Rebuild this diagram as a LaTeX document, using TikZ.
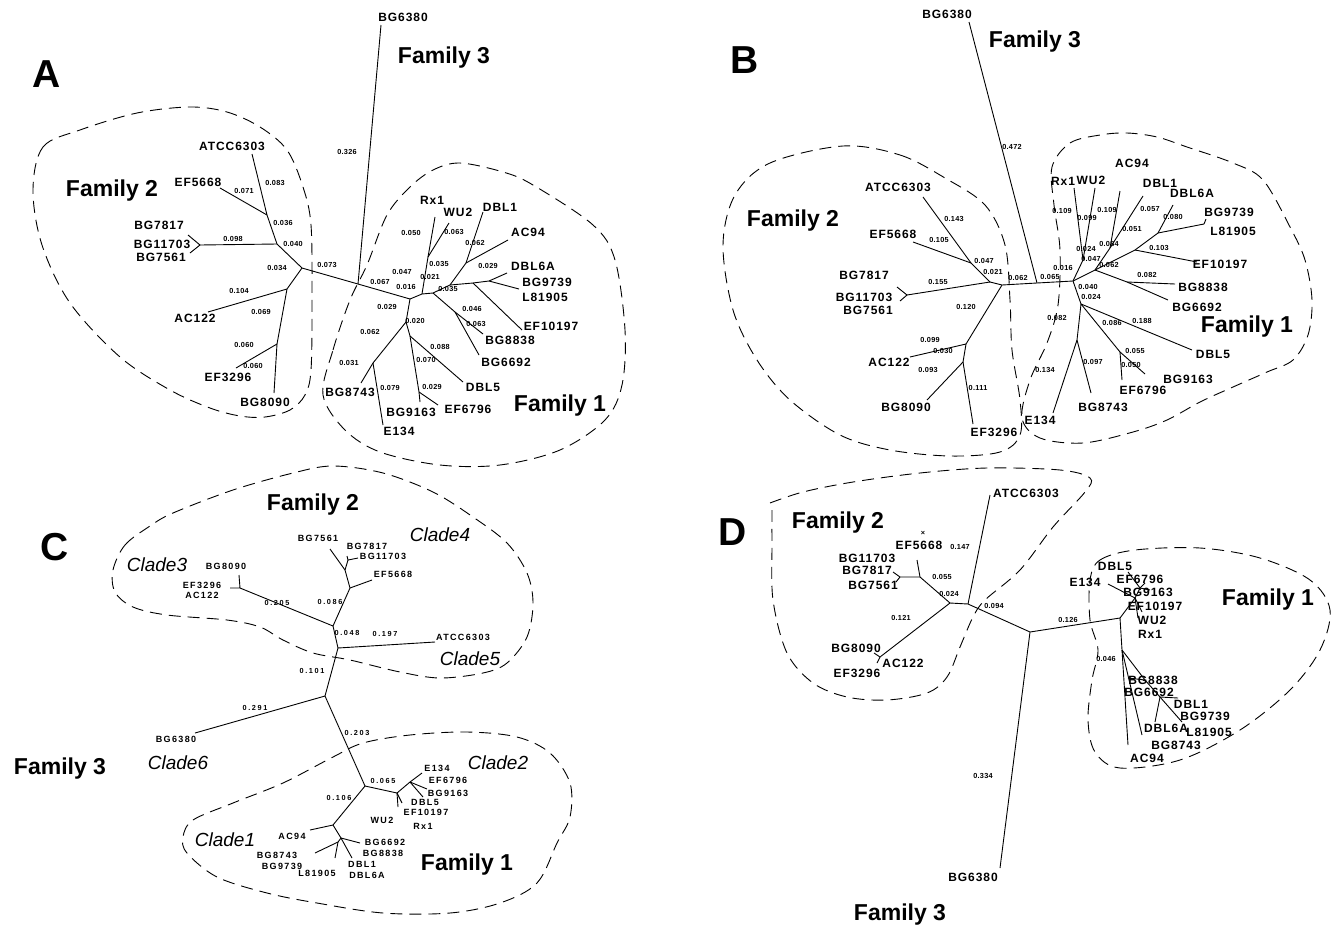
\documentclass[tikz,border=0pt]{standalone}
\usepackage{fontspec}
\setmainfont{Liberation Sans}
\newfontfamily\lfam[LetterSpace=8]{Liberation Sans}
\newfontfamily\cfam[LetterSpace=15]{Liberation Sans}
\newfontfamily\nfam[LetterSpace=4]{Liberation Sans}
\newfontfamily\cnfam[LetterSpace=22]{Liberation Sans}
\tikzset{
 leaf/.style={font=\lfam\bfseries\fontsize{12}{12}\selectfont, inner sep=0pt},
 cleaf/.style={font=\cfam\bfseries\fontsize{9}{9}\selectfont, inner sep=0pt},
 num/.style={font=\nfam\bfseries\fontsize{7.3}{8}\selectfont, inner sep=0pt},
 cnum/.style={font=\cnfam\bfseries\fontsize{7.3}{8}\selectfont, inner sep=0pt},
 fam/.style={font=\bfseries\fontsize{23}{25}\selectfont, inner sep=0pt},
 panel/.style={font=\bfseries\fontsize{39}{40}\selectfont, inner sep=0pt},
 clade/.style={font=\itshape\fontsize{19}{20}\selectfont, inner sep=0pt},
 br/.style={line width=0.9pt, line join=round},
 bound/.style={line width=0.9pt, dash pattern=on 12pt off 7pt},
}
\newcommand\tx[4][leaf]{\node[#1] (#2) at (#3) {#4};}
\begin{document}
\begin{tikzpicture}[x=1pt,y=-1pt]
\useasboundingbox (0,0) rectangle (1340,929);
% ================= PANEL A =================
\tx[panel]{aA}{47,74}{A}
\tx[fam]{aF2}{112,191}{Family 2}
\tx[fam]{aF3}{444,58}{Family 3}
\tx[fam]{aF1}{560,406}{Family 1}
\tx{aLatcc}{232,146}{ATCC6303}
\tx{aLef5668}{198,182}{EF5668}
\tx{aLbg7817}{159,225}{BG7817}
\tx{aLbg11703}{162,244}{BG11703}
\tx{aLbg7561}{161,257}{BG7561}
\tx{aLac122}{195,318}{AC122}
\tx{aLef3296}{228,377}{EF3296}
\tx{aLbg8090}{265,402}{BG8090}
\tx{aLbg6380}{403,17}{BG6380}
\tx{aLrx1}{432,200}{Rx1}
\tx{aLwu2}{458,212}{WU2}
\tx{aLdbl1}{500,207}{DBL1}
\tx{aLac94}{528,232}{AC94}
\tx{aLdbl6a}{533,266}{DBL6A}
\tx{aLbg9739}{547,282}{BG9739}
\tx{aLl81905}{545,297}{L81905}
\tx{aLef10197}{551,326}{EF10197}
\tx{aLbg8838}{510,340}{BG8838}
\tx{aLbg6692}{506,362}{BG6692}
\tx{aLdbl5}{483,387}{DBL5}
\tx{aLef6796}{468,409}{EF6796}
\tx{aLbg9163}{411,412}{BG9163}
\tx{aLe134}{399,431}{E134}
\tx{aLbg8743}{350,392}{BG8743}
% numbers A
\tx[num]{an1}{347,152}{0.326}
\tx[num]{an2}{275,183}{0.083}
\tx[num]{an3}{244,191}{0.071}
\tx[num]{an4}{283,223}{0.036}
\tx[num]{an5}{233,239}{0.098}
\tx[num]{an6}{293,244}{0.040}
\tx[num]{an7}{277,268}{0.034}
\tx[num]{an8}{327,265}{0.073}
\tx[num]{an9}{239,291}{0.104}
\tx[num]{an10}{261,312}{0.069}
\tx[num]{an11}{244,345}{0.060}
\tx[num]{an12}{253,366}{0.060}
\tx[num]{an13}{411,233}{0.050}
\tx[num]{an14}{454,232}{0.063}
\tx[num]{an15}{475,243}{0.062}
\tx[num]{an16}{439,264}{0.035}
\tx[num]{an17}{488,266}{0.029}
\tx[num]{an18}{402,272}{0.047}
\tx[num]{an19}{430,277}{0.021}
\tx[num]{an20}{380,282}{0.067}
\tx[num]{an21}{406,287}{0.016}
\tx[num]{an22}{448,289}{0.035}
\tx[num]{an23}{387,307}{0.029}
\tx[num]{an24}{472,309}{0.046}
\tx[num]{an25}{415,321}{0.020}
\tx[num]{an26}{476,324}{0.063}
\tx[num]{an27}{370,332}{0.062}
\tx[num]{an28}{440,347}{0.088}
\tx[num]{an29}{426,360}{0.070}
\tx[num]{an30}{349,363}{0.031}
\tx[num]{an31}{390,388}{0.079}
\tx[num]{an32}{432,387}{0.029}
% tree A
\coordinate (aatcc) at (252,154); \coordinate (aef5668) at (220,188);
\coordinate (aN1) at (267,215); \coordinate (aN2) at (277,244);
\coordinate (abg) at (200,245); \coordinate (abg1) at (188,235); \coordinate (abg2) at (190,253);
\coordinate (aN3) at (302,268); \coordinate (aN4) at (287,289); \coordinate (aac122) at (208,312);
\coordinate (aN5) at (277,344); \coordinate (aef3296) at (236,368); \coordinate (abg8090) at (274,393);
\coordinate (aJ) at (358,284); \coordinate (abg6380) at (381,25); \coordinate (aR) at (410,299);
\coordinate (aN6) at (422,294); \coordinate (aN7) at (428,257); \coordinate (arx1) at (435,217);
\coordinate (awu2) at (449,223); \coordinate (aN8) at (433,293); \coordinate (aN9) at (450,285);
\coordinate (aN10) at (466,263); \coordinate (adbl1) at (483,212); \coordinate (aac94) at (508,240);
\coordinate (aN12) at (473,283); \coordinate (aN11) at (489,281); \coordinate (adbl6a) at (507,273);
\coordinate (al81905) at (519,289); \coordinate (aef10197) at (522,330); \coordinate (aN13) at (455,312);
\coordinate (abg8838) at (483,334); \coordinate (abg6692) at (479,355); \coordinate (aN14) at (406,322);
\coordinate (aN15) at (410,336); \coordinate (adbl5) at (463,382); \coordinate (aN16) at (419,392);
\coordinate (abg9163) at (420,402); \coordinate (aef6796) at (438,405); \coordinate (aN17) at (373,363);
\coordinate (abg8743) at (361,383); \coordinate (ae134) at (383,425);
\draw[br] (aatcc) -- (aN1) -- (aN2) -- (aN3) -- (aJ) -- (aR) -- (aN6) -- (aN8) -- (aN9) -- (aN12) -- (aN11) -- (al81905);
\draw[br] (aef5668) -- (aN1); \draw[br] (abg) -- (aN2); \draw[br] (abg1) -- (abg) -- (abg2);
\draw[br] (aN3) -- (aN4) -- (aac122); \draw[br] (aN4) -- (aN5) -- (aef3296); \draw[br] (aN5) -- (abg8090);
\draw[br] (aJ) -- (abg6380);
\draw[br] (aN6) -- (aN7) -- (arx1); \draw[br] (aN7) -- (awu2);
\draw[br] (aN9) -- (aN10) -- (adbl1); \draw[br] (aN10) -- (aac94);
\draw[br] (aN11) -- (adbl6a); \draw[br] (aN12) -- (aef10197);
\draw[br] (aN8) -- (aN13) -- (abg8838); \draw[br] (aN13) -- (abg6692);
\draw[br] (aR) -- (aN14) -- (aN15) -- (adbl5); \draw[br] (aN15) -- (aN16) -- (abg9163); \draw[br] (aN16) -- (aef6796);
\draw[br] (aN14) -- (aN17) -- (abg8743); \draw[br] (aN17) -- (ae134);
% boundaries A
\draw[bound] plot[smooth cycle, tension=0.55] coordinates {(33,190) (43,147) (80,130) (137,113) (190,107) (227,112) (260,127) (287,150) (303,187) (311,225) (312,300) (311,370) (305,395) (290,410) (265,417) (240,416) (210,408) (170,390) (120,357) (70,303) (42,245)};
\draw[bound] plot[smooth cycle, tension=0.55] coordinates {(323,395) (333,350) (350,300) (367,265) (387,215) (410,187) (433,170) (460,163) (503,172) (533,185) (593,225) (615,260) (625,330) (622,385) (605,420) (560,450) (500,465) (440,465) (380,452) (345,430)};
% ================= PANEL B =================
\tx[panel]{bB}{745,60}{B}
\tx[fam]{bF3}{1035,42}{Family 3}
\tx[fam]{bF2}{793,221}{Family 2}
\tx[fam]{bF1}{1247,327}{Family 1}
\tx{bLbg6380}{947,14}{BG6380}
\tx{bLatcc}{898,187}{ATCC6303}
\tx{bLef5668}{893,234}{EF5668}
\tx{bLbg7817}{864,275}{BG7817}
\tx{bLbg11703}{864,297}{BG11703}
\tx{bLbg7561}{868,310}{BG7561}
\tx{bLac122}{889,362}{AC122}
\tx{bLbg8090}{906,407}{BG8090}
\tx{bLef3296}{994,432}{EF3296}
\tx{bLrx1}{1063,181}{Rx1}
\tx{bLwu2}{1091,180}{WU2}
\tx{bLac94}{1132,163}{AC94}
\tx{bLdbl1}{1160,183}{DBL1}
\tx{bLdbl6a}{1192,193}{DBL6A}
\tx{bLbg9739}{1229,212}{BG9739}
\tx{bLl81905}{1233,231}{L81905}
\tx{bLef10197}{1220,264}{EF10197}
\tx{bLbg8838}{1203,287}{BG8838}
\tx{bLbg6692}{1197,307}{BG6692}
\tx{bLdbl5}{1213,354}{DBL5}
\tx{bLbg9163}{1188,379}{BG9163}
\tx{bLef6796}{1143,390}{EF6796}
\tx{bLbg8743}{1103,407}{BG8743}
\tx{bLe134}{1040,420}{E134}
% numbers B
\tx[num]{bn1}{1012,147}{0.472}
\tx[num]{bn2}{954,219}{0.143}
\tx[num]{bn3}{939,240}{0.105}
\tx[num]{bn4}{984,261}{0.047}
\tx[num]{bn5}{993,272}{0.021}
\tx[num]{bn6}{1018,278}{0.062}
\tx[num]{bn7}{938,282}{0.155}
\tx[num]{bn8}{966,307}{0.120}
\tx[num]{bn9}{930,340}{0.099}
\tx[num]{bn10}{943,351}{0.030}
\tx[num]{bn11}{928,370}{0.093}
\tx[num]{bn12}{978,388}{0.111}
\tx[num]{bn13}{1062,211}{0.109}
\tx[num]{bn14}{1087,218}{0.099}
\tx[num]{bn15}{1107,210}{0.109}
\tx[num]{bn16}{1150,209}{0.057}
\tx[num]{bn17}{1173,217}{0.080}
\tx[num]{bn18}{1132,229}{0.051}
\tx[num]{bn19}{1086,249}{0.024}
\tx[num]{bn20}{1109,244}{0.084}
\tx[num]{bn21}{1091,259}{0.047}
\tx[num]{bn22}{1109,265}{0.062}
\tx[num]{bn23}{1159,248}{0.103}
\tx[num]{bn24}{1063,268}{0.016}
\tx[num]{bn25}{1050,277}{0.065}
\tx[num]{bn26}{1147,275}{0.082}
\tx[num]{bn27}{1088,287}{0.040}
\tx[num]{bn28}{1091,297}{0.024}
\tx[num]{bn29}{1057,318}{0.082}
\tx[num]{bn30}{1112,323}{0.086}
\tx[num]{bn31}{1142,321}{0.188}
\tx[num]{bn32}{1135,351}{0.055}
\tx[num]{bn33}{1131,365}{0.050}
\tx[num]{bn34}{1093,362}{0.097}
\tx[num]{bn35}{1045,370}{0.134}
% tree B
\coordinate (bbg6380) at (969,22); \coordinate (bC) at (1037,283); \coordinate (bN3) at (1002,285);
\coordinate (bN2) at (990,282); \coordinate (bN1) at (971,263); \coordinate (batcc) at (923,197);
\coordinate (bef5668) at (913,242); \coordinate (bbg) at (907,295); \coordinate (bbg1) at (897,287);
\coordinate (bbg2) at (900,301); \coordinate (bN4) at (966,344); \coordinate (bac122) at (910,357);
\coordinate (bN5) at (963,362); \coordinate (bbg8090) at (927,400); \coordinate (bef3296) at (973,424);
\coordinate (bFa) at (1073,281); \coordinate (bFr) at (1083,260); \coordinate (brx1) at (1074,188);
\coordinate (bwu2) at (1095,188); \coordinate (bFd) at (1095,270); \coordinate (bFe) at (1110,248);
\coordinate (bac94) at (1120,191); \coordinate (bdbl1) at (1143,196); \coordinate (bFf) at (1135,250);
\coordinate (bFg) at (1158,233); \coordinate (bdbl6a) at (1173,205); \coordinate (bl81905) at (1204,224);
\coordinate (bbg9739) at (1206,219); \coordinate (bef10197) at (1197,262); \coordinate (bFh) at (1127,282);
\coordinate (bbg8838) at (1175,284); \coordinate (bbg6692) at (1168,300); \coordinate (bFi) at (1081,304);
\coordinate (bdbl5) at (1192,350); \coordinate (bFj) at (1120,352); \coordinate (bef6796) at (1122,380);
\coordinate (bbg9163) at (1145,374); \coordinate (bFk) at (1077,340); \coordinate (bbg8743) at (1091,393);
\coordinate (be134) at (1053,413);
\draw[br] (bbg6380) -- (bC); \draw[br] (bN2) -- (bN3) -- (bC) -- (bFa);
\draw[br] (batcc) -- (bN1) -- (bN2); \draw[br] (bef5668) -- (bN1); \draw[br] (bbg) -- (bN2);
\draw[br] (bbg1) -- (bbg) -- (bbg2);
\draw[br] (bN3) -- (bN4) -- (bac122); \draw[br] (bN4) -- (bN5) -- (bbg8090); \draw[br] (bN5) -- (bef3296);
\draw[br] (bFa) -- (bFr) -- (brx1); \draw[br] (bFr) -- (bwu2);
\draw[br] (bFa) -- (bFd) -- (bFe) -- (bac94); \draw[br] (bFe) -- (bdbl1);
\draw[br] (bFd) -- (bFf) -- (bFg) -- (bl81905); \draw[br] (bFg) -- (bdbl6a); \draw[br] (bFf) -- (bef10197);
\draw[br] (bl81905) -- (bbg9739);
\draw[br] (bFd) -- (bFh) -- (bbg8838); \draw[br] (bFh) -- (bbg6692);
\draw[br] (bFa) -- (bFi) -- (bdbl5); \draw[br] (bFi) -- (bFj) -- (bef6796); \draw[br] (bFj) -- (bbg9163);
\draw[br] (bFi) -- (bFk) -- (bbg8743); \draw[br] (bFk) -- (be134);
% boundaries B
\draw[bound] plot[smooth cycle, tension=0.55] coordinates {(843,146) (900,155) (945,178) (985,205) (1005,245) (1010,300) (1012,350) (1020,400) (1020,435) (1000,452) (950,456) (890,450) (840,435) (790,400) (757,360) (733,310) (723,245) (735,195) (770,163)};
\draw[bound] plot[smooth cycle, tension=0.55] coordinates {(1052,167) (1070,143) (1100,135) (1127,133) (1157,137) (1187,147) (1233,163) (1263,180) (1290,227) (1305,260) (1312,300) (1308,335) (1293,360) (1267,372) (1233,387) (1200,402) (1167,420) (1133,432) (1083,443) (1040,438) (1022,418) (1030,380) (1047,343) (1058,305) (1060,250) (1054,205)};
% ================= PANEL C =================
\tx[panel]{cC}{55,547}{C}
\tx[fam]{cF2}{313,505}{Family 2}
\tx[fam]{cF3}{60,769}{Family 3}
\tx[fam]{cF1}{467,865}{Family 1}
\tx[clade]{cc3}{157,565}{Clade3}
\tx[clade]{cc4}{440,535}{Clade4}
\tx[clade]{cc5}{470,659}{Clade5}
\tx[clade]{cc6}{178,763}{Clade6}
\tx[clade]{cc2}{498,763}{Clade2}
\tx[clade]{cc1}{225,840}{Clade1}
\tx[cleaf]{cLbg8090}{226,566}{BG8090}
\tx[cleaf]{cLef3296}{202,585}{EF3296}
\tx[cleaf]{cLac122}{202,595}{AC122}
\tx[cleaf]{cLbg7561}{318,538}{BG7561}
\tx[cleaf]{cLbg7817}{367,546}{BG7817}
\tx[cleaf]{cLbg11703}{383,556}{BG11703}
\tx[cleaf]{cLef5668}{393,574}{EF5668}
\tx[cleaf]{cLatcc}{463,637}{ATCC6303}
\tx[cleaf]{cLbg6380}{176,739}{BG6380}
\tx[cleaf]{cLe134}{437,768}{E134}
\tx[cleaf]{cLef6796}{448,780}{EF6796}
\tx[cleaf]{cLbg9163}{448,793}{BG9163}
\tx[cleaf]{cLdbl5}{425,802}{DBL5}
\tx[cleaf]{cLef10197}{426,812}{EF10197}
\tx[cleaf]{cLwu2}{382,820}{WU2}
\tx[cleaf]{cLrx1}{423,826}{Rx1}
\tx[cleaf]{cLac94}{292,836}{AC94}
\tx[cleaf]{cLbg6692}{385,842}{BG6692}
\tx[cleaf]{cLbg8743}{277,855}{BG8743}
\tx[cleaf]{cLbg8838}{383,853}{BG8838}
\tx[cleaf]{cLbg9739}{282,866}{BG9739}
\tx[cleaf]{cLl81905}{317,873}{L81905}
\tx[cleaf]{cLdbl1}{362,864}{DBL1}
\tx[cleaf]{cLdbl6a}{367,875}{DBL6A}
\tx[cnum]{cn1}{277,603}{0.205}
\tx[cnum]{cn2}{330,602}{0.086}
\tx[cnum]{cn3}{347,633}{0.048}
\tx[cnum]{cn4}{385,634}{0.197}
\tx[cnum]{cn5}{312,671}{0.101}
\tx[cnum]{cn6}{255,708}{0.291}
\tx[cnum]{cn7}{357,733}{0.203}
\tx[cnum]{cn8}{383,781}{0.065}
\tx[cnum]{cn9}{339,798}{0.106}
% tree C
\coordinate (cg3) at (240,588); \coordinate (cbg8090) at (239,575); \coordinate (cef3296) at (230,588);
\coordinate (cN1) at (333,626); \coordinate (cN2) at (350,588); \coordinate (cef5668) at (372,580);
\coordinate (cN3) at (345,570); \coordinate (cbg7561) at (330,549); \coordinate (cN4) at (348,560);
\coordinate (cbg11703) at (358,558); \coordinate (cbg7817) at (347,556);
\coordinate (cN5) at (338,648); \coordinate (catcc) at (435,642); \coordinate (cN6) at (325,696);
\coordinate (cbg6380) at (195,733); \coordinate (cN7) at (365,786); \coordinate (cN8) at (397,793);
\coordinate (cX) at (410,782); \coordinate (ce134) at (422,773); \coordinate (cbg9163) at (427,789);
\coordinate (cdbl5) at (423,797); \coordinate (cef10197) at (398,807); \coordinate (cwu2) at (402,803);
\coordinate (cN9) at (333,825); \coordinate (cac94) at (310,830); \coordinate (cN10) at (341,838);
\coordinate (cbg6692) at (360,843); \coordinate (cdbl1) at (352,858); \coordinate (cN11) at (338,842);
\coordinate (cbg8743) at (315,853); \coordinate (cl81905) at (335,858);
\draw[br] (cbg8090) -- (cg3) -- (cef3296); \draw[br] (cg3) -- (cN1) -- (cN2) -- (cN3) -- (cbg7561);
\draw[br] (cN2) -- (cef5668); \draw[br] (cN3) -- (cN4) -- (cbg11703); \draw[br] (cN4) -- (cbg7817);
\draw[br] (cN1) -- (cN5) -- (catcc); \draw[br] (cN5) -- (cN6) -- (cbg6380);
\draw[br] (cN6) -- (cN7) -- (cN8) -- (cX) -- (ce134); \draw[br] (cX) -- (cbg9163); \draw[br] (cX) -- (cdbl5);
\draw[br] (cN8) -- (cef10197); \draw[br] (cN8) -- (cwu2);
\draw[br] (cN7) -- (cN9) -- (cac94); \draw[br] (cN9) -- (cN10) -- (cbg6692); \draw[br] (cN10) -- (cdbl1);
\draw[br] (cN10) -- (cN11) -- (cbg8743); \draw[br] (cN11) -- (cl81905);
% boundaries C
\draw[bound] plot[smooth cycle, tension=0.55] coordinates {(113,570) (125,545) (150,526) (173,513) (233,490) (293,473) (333,466) (383,473) (433,492) (473,517) (507,543) (527,573) (533,603) (527,637) (507,663) (483,673) (440,678) (400,672) (350,660) (313,653) (283,640) (260,627) (227,620) (167,615) (133,607) (115,592)};
\draw[bound] plot[smooth cycle, tension=0.55] coordinates {(183,837) (193,820) (233,803) (283,783) (333,757) (363,743) (410,735) (467,732) (517,737) (550,753) (570,783) (570,817) (557,843) (537,883) (500,903) (450,913) (383,913) (317,903) (267,893) (217,877) (187,853)};
% ================= PANEL D =================
\tx[panel]{dD}{733,532}{D}
\tx[fam]{dF2}{838,523}{Family 2}
\tx[fam]{dF1}{1268,600}{Family 1}
\tx[fam]{dF3}{900,915}{Family 3}
\tx{dLatcc}{1026,493}{ATCC6303}
\tx[num]{dx}{923,533}{×}
\tx{dLef5668}{919,545}{EF5668}
\tx{dLbg11703}{867,558}{BG11703}
\tx{dLbg7817}{867,570}{BG7817}
\tx{dLbg7561}{873,585}{BG7561}
\tx{dLbg8090}{856,648}{BG8090}
\tx{dLac122}{903,663}{AC122}
\tx{dLef3296}{857,673}{EF3296}
\tx{dLbg6380}{973,877}{BG6380}
\tx{dLdbl5}{1115,566}{DBL5}
\tx{dLe134}{1085,582}{E134}
\tx{dLef6796}{1140,579}{EF6796}
\tx{dLbg9163}{1148,592}{BG9163}
\tx{dLef10197}{1155,606}{EF10197}
\tx{dLwu2}{1152,620}{WU2}
\tx{dLrx1}{1150,634}{Rx1}
\tx{dLbg8838}{1153,680}{BG8838}
\tx{dLbg6692}{1149,692}{BG6692}
\tx{dLdbl1}{1191,704}{DBL1}
\tx{dLbg9739}{1205,716}{BG9739}
\tx{dLdbl6a}{1166,728}{DBL6A}
\tx{dLl81905}{1209,732}{L81905}
\tx{dLbg8743}{1176,745}{BG8743}
\tx{dLac94}{1147,758}{AC94}
\tx[num]{dn1}{960,547}{0.147}
\tx[num]{dn2}{942,577}{0.055}
\tx[num]{dn3}{949,594}{0.024}
\tx[num]{dn4}{994,606}{0.094}
\tx[num]{dn5}{901,618}{0.121}
\tx[num]{dn6}{1068,620}{0.126}
\tx[num]{dn7}{983,776}{0.334}
\tx[num]{dn8}{1106,659}{0.046}
% tree D
\coordinate (datcc) at (990,495); \coordinate (dD2) at (968,604); \coordinate (dD1) at (950,603);
\coordinate (dD3) at (920,577); \coordinate (def5668) at (917,560); \coordinate (dG) at (900,577);
\coordinate (dbg1) at (893,572); \coordinate (dbg2) at (896,582); \coordinate (dD4) at (880,657);
\coordinate (dbg8090) at (874,653); \coordinate (dac122) at (877,663); \coordinate (dD5) at (1030,632);
\coordinate (dbg6380) at (1000,868); \coordinate (dD6) at (1120,618);
\coordinate (dD7) at (1135,598); \coordinate (de134) at (1108,584); \coordinate (dDa) at (1140,588);
\coordinate (ddbl5) at (1128,572); \coordinate (def6796) at (1145,583); \coordinate (dbg9163) at (1150,590);
\coordinate (dwu2) at (1142,612); \coordinate (drx1) at (1138,618);
\coordinate (dD8) at (1122,650); \coordinate (dD9) at (1145,680); \coordinate (dbg8838) at (1128,678);
\coordinate (dDb) at (1160,697); \coordinate (ddbl1) at (1178,698); \coordinate (ddbl6a) at (1155,722);
\coordinate (dl81905) at (1182,722); \coordinate (dbg8743) at (1142,735); \coordinate (dac94) at (1128,745);
\draw[br] (datcc) -- (dD2) -- (dD1) -- (dD3) -- (def5668); \draw[br] (dD3) -- (dG) -- (dbg1); \draw[br] (dG) -- (dbg2);
\draw[br] (dD1) -- (dD4) -- (dbg8090); \draw[br] (dD4) -- (dac122);
\draw[br] (dD2) -- (dD5) -- (dD6); \draw[br] (dD5) -- (dbg6380);
\draw[br] (dD6) -- (dD7) -- (dDa) -- (ddbl5); \draw[br] (dDa) -- (def6796); \draw[br] (dDa) -- (dbg9163);
\draw[br] (dD7) -- (de134); \draw[br] (dD7) -- (dwu2); \draw[br] (dD7) -- (drx1);
\draw[br] (dD6) -- (dD8) -- (dD9) -- (dDb) -- (ddbl1); \draw[br] (dDb) -- (ddbl6a); \draw[br] (dDb) -- (dl81905);
\draw[br] (dD9) -- (dbg8838); \draw[br] (dD8) -- (dbg8743); \draw[br] (dD8) -- (dac94);
% boundaries D
\draw[bound] plot[smooth, tension=0.55] coordinates {(770,503) (803,492) (853,482) (920,473) (987,468) (1060,470) (1090,478) (1085,492) (1053,527) (1020,570) (985,600) (973,617) (960,647) (947,677) (927,693) (887,700) (847,697) (813,683) (787,653) (773,600) (772,543) (772,510)};
\draw[bound] plot[smooth cycle, tension=0.55] coordinates {(1090,580) (1100,560) (1135,550) (1200,548) (1260,558) (1310,580) (1330,610) (1320,650) (1290,690) (1240,730) (1180,760) (1120,768) (1095,752) (1088,720) (1092,680) (1098,650) (1090,620)};
\end{tikzpicture}
\end{document}
